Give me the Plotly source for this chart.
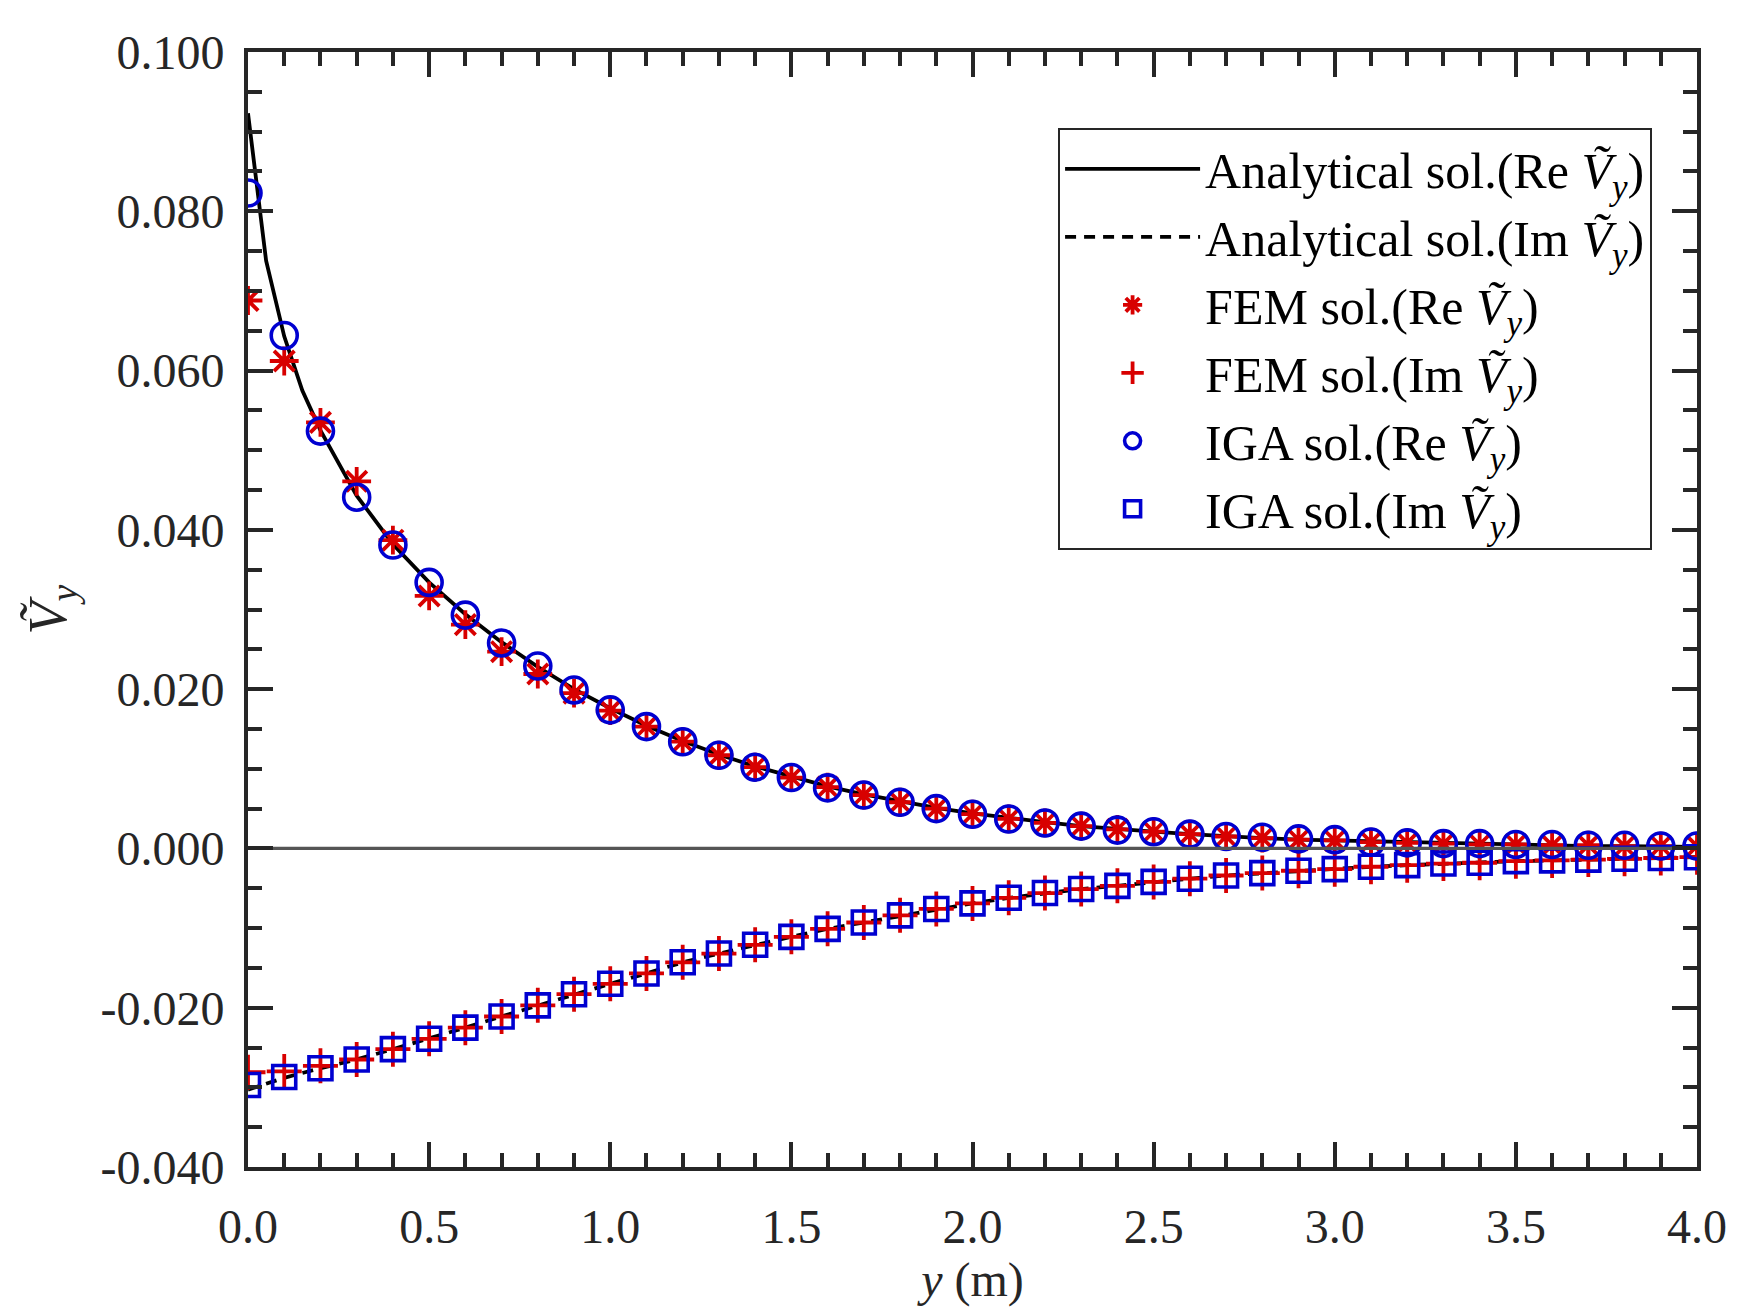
import plotly.graph_objects as go

# ---------------- data ----------------
x_pts = [round(0.1 * i, 1) for i in range(41)]

ana_re_x = [0, 0.02, 0.05, 0.1, 0.15] + [round(0.1 * i, 1) for i in range(2, 41)]
ana_re_y = [0.0923, 0.0852, 0.0738, 0.0643, 0.0575, 0.0525, 0.0443, 0.0382, 0.0334, 0.0294,
            0.0259, 0.0228, 0.0200, 0.0176, 0.0154, 0.0135, 0.0118, 0.0103, 0.0090, 0.0078,
            0.0068, 0.0059, 0.0051, 0.0044, 0.0038, 0.0033, 0.0028, 0.0024, 0.0021, 0.0018,
            0.0015, 0.0013, 0.0011, 0.0010, 0.0008, 0.0007, 0.0006, 0.0005, 0.0004, 0.0004,
            0.0003, 0.0003, 0.0002, 0.0002]

ana_im_y = [-0.0303, -0.0288, -0.0276, -0.0265, -0.0252, -0.0239, -0.0225, -0.0211, -0.0197, -0.0183,
            -0.0170, -0.0157, -0.0143, -0.0132, -0.0121, -0.0111, -0.0101, -0.0093, -0.0084, -0.0076,
            -0.0069, -0.0062, -0.0056, -0.0051, -0.0047, -0.0042, -0.0038, -0.0034, -0.0031, -0.0028,
            -0.0026, -0.0023, -0.0021, -0.0019, -0.0018, -0.0016, -0.0015, -0.0014, -0.0013, -0.0012,
            -0.0011]

fem_re = [0.0688, 0.0612, 0.0535, 0.0461, 0.0387, 0.0317, 0.0281, 0.0247, 0.0219, 0.0195,
          0.0173, 0.0153, 0.0134, 0.0117, 0.0102, 0.0089, 0.0077, 0.0067, 0.0058, 0.0050,
          0.0043, 0.0037, 0.0032, 0.0028, 0.0024, 0.0021, 0.0018, 0.0015, 0.0013, 0.0011,
          0.0010, 0.0008, 0.0007, 0.0006, 0.0005, 0.0005, 0.0004, 0.0004, 0.0003, 0.0003,
          0.0003]

fem_im = [-0.0281, -0.0280, -0.0273, -0.0265, -0.0252, -0.0239, -0.0225, -0.0211, -0.0197, -0.0183,
          -0.0170, -0.0157, -0.0143, -0.0132, -0.0121, -0.0111, -0.0101, -0.0093, -0.0084, -0.0076,
          -0.0069, -0.0062, -0.0056, -0.0051, -0.0047, -0.0042, -0.0038, -0.0034, -0.0031, -0.0028,
          -0.0026, -0.0023, -0.0021, -0.0019, -0.0018, -0.0016, -0.0015, -0.0014, -0.0013, -0.0012,
          -0.0011]

iga_re = [0.0823, 0.0644, 0.0524, 0.0441, 0.0381, 0.0334, 0.0293, 0.0258, 0.0229, 0.0199,
          0.0174, 0.0153, 0.0134, 0.0117, 0.0102, 0.0089, 0.0076, 0.0067, 0.0058, 0.0050,
          0.0043, 0.0037, 0.0032, 0.0028, 0.0023, 0.0021, 0.0018, 0.0015, 0.0014, 0.0012,
          0.0011, 0.0008, 0.0007, 0.0006, 0.0006, 0.0005, 0.0005, 0.0004, 0.0004, 0.0003,
          0.0003]

iga_im = [-0.0297, -0.0287, -0.0276, -0.0265, -0.0252, -0.0239, -0.0225, -0.0211, -0.0197, -0.0183,
          -0.0170, -0.0157, -0.0143, -0.0132, -0.0121, -0.0111, -0.0101, -0.0093, -0.0084, -0.0076,
          -0.0069, -0.0062, -0.0056, -0.0051, -0.0047, -0.0042, -0.0038, -0.0034, -0.0031, -0.0028,
          -0.0026, -0.0023, -0.0021, -0.0019, -0.0018, -0.0016, -0.0015, -0.0014, -0.0013, -0.0012,
          -0.0011]

zero_x = [0, 4]
zero_y = [0, 0]

y_tickvals = [0.100, 0.080, 0.060, 0.040, 0.020, 0.000, -0.020, -0.040]
y_ticktext = ["0.100", "0.080", "0.060", "0.040", "0.020", "0.000", "-0.020", "-0.040"]
x_tickvals = [0.0, 0.5, 1.0, 1.5, 2.0, 2.5, 3.0, 3.5, 4.0]
x_ticktext = ["0.0", "0.5", "1.0", "1.5", "2.0", "2.5", "3.0", "3.5", "4.0"]

V = "<i>Ṽ</i><sub><i>y</i></sub>"
names = ["Analytical sol.(Re " + V + ")", "Analytical sol.(Im " + V + ")",
         "FEM sol.(Re " + V + ")", "FEM sol.(Im " + V + ")",
         "IGA sol.(Re " + V + ")", "IGA sol.(Im " + V + ")"]

# ---------------- style ----------------
RED = "#D80000"
BLUE = "#0000D0"
AX = "#262626"
FONT = "Liberation Serif"
FS = 48

fig = go.Figure()
fig.add_trace(go.Scatter(x=ana_re_x, y=ana_re_y, mode="lines", name=names[0], legendgroup="g0",
                         line=dict(color="black", width=3.8)))
fig.add_trace(go.Scatter(x=x_pts, y=ana_im_y, mode="lines", name=names[1], legendgroup="g1",
                         line=dict(color="black", width=3.8, dash="11px,8px")))
fig.add_trace(go.Scatter(x=x_pts, y=fem_re, mode="markers", name=names[2], legendgroup="g2",
                         marker=dict(symbol="asterisk-open", size=24, color=RED,
                                     line=dict(color=RED, width=3.8))))
fig.add_trace(go.Scatter(x=x_pts, y=fem_im, mode="markers", name=names[3], legendgroup="g3",
                         marker=dict(symbol="cross-thin-open", size=25, color=RED,
                                     line=dict(color=RED, width=3.8))))
fig.add_trace(go.Scatter(x=x_pts, y=iga_re, mode="markers", name=names[4], legendgroup="g4",
                         marker=dict(symbol="circle-open", size=26, color=BLUE,
                                     line=dict(color=BLUE, width=3.6))))
fig.add_trace(go.Scatter(x=x_pts, y=iga_im, mode="markers", name=names[5], legendgroup="g5",
                         marker=dict(symbol="square-open", size=23, color=BLUE,
                                     line=dict(color=BLUE, width=3.6))))
fig.add_trace(go.Scatter(x=zero_x, y=zero_y, mode="lines", showlegend=False,
                         line=dict(color="#555555", width=3.2), hoverinfo="skip"))

axis_common = dict(
    showline=True, linecolor=AX, linewidth=4, mirror="allticks",
    ticks="inside", tickcolor=AX, tickwidth=3.5, ticklen=25,
    showgrid=False, zeroline=False,
    tickfont=dict(family=FONT, size=FS, color=AX),
)

fig.update_layout(
    width=1750, height=1311,
    margin=dict(l=248, r=53, t=52, b=144, pad=0),
    paper_bgcolor="white", plot_bgcolor="white",
    font=dict(family=FONT, size=FS, color=AX),
    xaxis=dict(range=[0, 4], tickvals=x_tickvals, ticktext=x_ticktext,
               minor=dict(dtick=0.1, ticks="inside", ticklen=14, tickwidth=3.5, tickcolor=AX, showgrid=False),
               title=dict(text="<i>y</i> (m)", font=dict(family=FONT, size=FS, color=AX), standoff=6),
               ticklabelstandoff=14,
               **axis_common),
    yaxis=dict(range=[-0.04, 0.1], tickvals=y_tickvals, ticktext=y_ticktext,
               minor=dict(dtick=0.005, ticks="inside", ticklen=14, tickwidth=3.5, tickcolor=AX, showgrid=False),
               title=dict(text=V, font=dict(family=FONT, size=54, color=AX), standoff=18),
               ticklabelstandoff=10,
               **axis_common),
    legend=dict(x=0.969, y=0.932, xanchor="right", yanchor="top",
                bgcolor="white", bordercolor=AX, borderwidth=2,
                font=dict(family=FONT, size=50, color="black"),
                tracegroupgap=0, itemwidth=135, traceorder="grouped"),
    showlegend=True,
)

fig.write_html("out.html")
